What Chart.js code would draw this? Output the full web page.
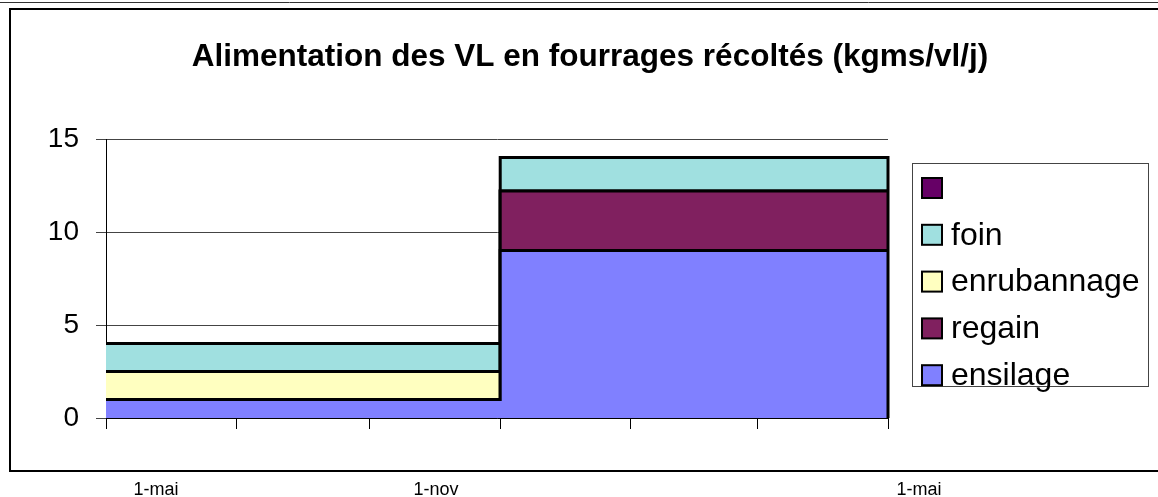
<!DOCTYPE html>
<html>
<head>
<meta charset="utf-8">
<script src="https://cdn.jsdelivr.net/npm/chart.js@4.4.0/dist/chart.umd.min.js"></script>
<style>
  html, body { margin: 0; padding: 0; background: #fff; }
  #wrap { position: relative; width: 1158px; height: 497px; }
</style>
</head>
<body>
<div id="wrap"><canvas id="myChart" width="1158" height="497"></canvas></div>
<script>
// axe en jours depuis le 1er mai
const debutPeriode = [0, 184]          // 1-mai, 1-nov
const finPeriode = 365                 // 1-mai suivant
const graduationsX = [0, 61, 123, 184, 245, 304, 365]  // 1er de chaque mois pair
const etiquettesX = ['1-mai', '1-nov', '1-mai']

// kgms/vl/j par periode
const ensilage = [1, 9]
const regain = [0, 3.2]
const enrubannage = [1.5, 0]
const foin = [1.5, 1.8]
const vide = [0, 0]

const titre = 'Alimentation des VL en fourrages récoltés (kgms/vl/j)'
const police = "'Liberation Sans', Arial, sans-serif"

function points(valeurs) {
    const pts = valeurs.map((v, i) => ({ x: debutPeriode[i], y: v }))
    pts.push({ x: finPeriode, y: valeurs[valeurs.length - 1] })
    return pts
}

function serie(nom, valeurs, couleur, fill) {
    return {
        label: nom,
        data: points(valeurs),
        backgroundColor: couleur,
        borderColor: '#000',
        borderWidth: 3,
        pointRadius: 0,
        stepped: 'before',
        fill: fill
    }
}

const datasets = [
    serie('ensilage', ensilage, '#8080FF', 'origin'),
    serie('regain', regain, '#80205F', '-1'),
    serie('enrubannage', enrubannage, '#FFFFC0', '-1'),
    serie('foin', foin, '#A0E0E0', '-1'),
    Object.assign(serie('', vide, '#660066', false), { borderWidth: 0 })
]

// cadre, titre, legende, etiquettes du bas
const decor = {
    id: 'decor',
    beforeDraw(chart) {
        const ctx = chart.ctx
        ctx.save()
        ctx.fillStyle = '#fff'
        ctx.fillRect(0, 0, chart.width, chart.height)
        ctx.strokeStyle = '#333'
        ctx.lineWidth = 1
        ctx.beginPath()
        ctx.moveTo(0, 2.5); ctx.lineTo(chart.width, 2.5)
        ctx.stroke()
        ctx.strokeStyle = '#000'
        ctx.lineWidth = 2
        ctx.beginPath()
        ctx.moveTo(chart.width, 9); ctx.lineTo(10, 9); ctx.lineTo(10, 471); ctx.lineTo(chart.width, 471)
        ctx.stroke()
        ctx.restore()
    },
    afterDatasetsDraw(chart) {
        const ctx = chart.ctx
        const x = chart.scales.x
        const y = chart.scales.y
        // bord droit de la surface empilee
        const meta = chart.getDatasetMeta(3)
        const dernier = meta.data[meta.data.length - 1]
        ctx.save()
        ctx.strokeStyle = '#000'
        ctx.lineWidth = 3
        ctx.beginPath()
        ctx.moveTo(x.getPixelForValue(finPeriode), y.getPixelForValue(0))
        ctx.lineTo(x.getPixelForValue(finPeriode), dernier.y - 1.5)
        ctx.stroke()
        ctx.restore()
    },
    afterDraw(chart) {
        const ctx = chart.ctx
        ctx.save()
        ctx.fillStyle = '#000'
        ctx.font = 'bold 31.5px ' + police
        ctx.textAlign = 'center'
        ctx.textBaseline = 'alphabetic'
        ctx.fillText(titre, 590, 66)

        // legende
        ctx.strokeStyle = '#444'
        ctx.lineWidth = 1
        ctx.strokeRect(912.5, 163.5, 236, 223)
        ctx.font = '32px ' + police
        ctx.textAlign = 'left'
        ctx.textBaseline = 'middle'
        const ordre = datasets.slice().reverse()
        ordre.forEach((ds, i) => {
            const cy = 188 + i * 46.8
            ctx.fillStyle = ds.backgroundColor
            ctx.fillRect(922, cy - 10, 20, 20)
            ctx.strokeStyle = '#000'
            ctx.lineWidth = 2
            ctx.strokeRect(922, cy - 10, 20, 20)
            ctx.fillStyle = '#000'
            ctx.fillText(ds.label, 951, cy + 1)
        })

        // etiquettes sous le cadre
        ctx.font = '18px ' + police
        ctx.textAlign = 'center'
        ctx.textBaseline = 'alphabetic'
        const posX = [156, 436, 919]
        etiquettesX.forEach((t, i) => ctx.fillText(t, posX[i], 495))
        ctx.restore()
    }
}

const ctx = document.getElementById('myChart').getContext('2d')
const myChart = new Chart(ctx, {
    type: 'line',
    data: { datasets: datasets },
    options: {
        responsive: false,
        animation: false,
        events: [],
        layout: { padding: { left: 26, right: 270, top: 139, bottom: 67 } },
        plugins: {
            legend: { display: false },
            title: { display: false },
            tooltip: { enabled: false }
        },
        scales: {
            x: {
                type: 'linear',
                min: 0,
                max: finPeriode,
                ticks: { display: false },
                afterBuildTicks(s) { s.ticks = graduationsX.map(v => ({ value: v })) },
                grid: { drawOnChartArea: false, drawTicks: true, tickLength: 11, color: '#000', lineWidth: 1 },
                border: { display: true, color: '#000', width: 1 },
                afterFit(s) { s.height = 12 }
            },
            y: {
                stacked: true,
                min: 0,
                max: 15,
                ticks: { stepSize: 5, color: '#000', font: { family: police, size: 28 }, padding: 17 },
                grid: { color: '#444', lineWidth: 1, tickLength: 10 },
                border: { display: true, color: '#000', width: 1 },
                afterFit(s) { s.width = 80 }
            }
        }
    },
    plugins: [decor]
})
</script>
</body>
</html>
